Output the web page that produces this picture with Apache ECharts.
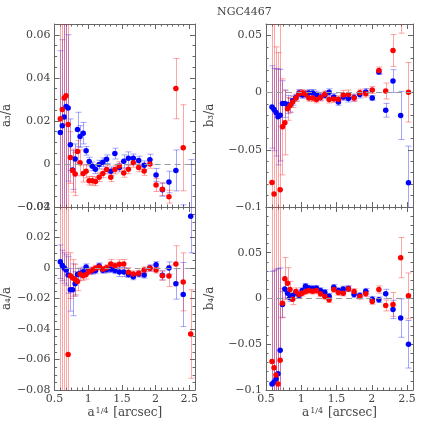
<!DOCTYPE html>
<html>
<head>
<meta charset="utf-8">
<script src="https://cdn.jsdelivr.net/npm/echarts@6/dist/echarts.min.js"></script>
<style>
  html, body { margin: 0; background: #fff; }
  #chart { width: 436px; height: 436px; }
</style>
</head>
<body>
<div id="chart"></div>
<script>
// a^(1/4) in arcsec, one entry per isophote
const radius = [0.585, 0.614, 0.642, 0.670, 0.701, 0.734, 0.767, 0.805, 0.840, 0.878, 0.925, 0.968, 1.013, 1.060, 1.107, 1.161, 1.216, 1.272, 1.334, 1.395, 1.461, 1.527, 1.596, 1.669, 1.749, 1.830, 1.915, 2.007, 2.101, 2.198, 2.301, 2.410, 2.521]

const a3Red = [0.021, 0.0253, 0.0306, 0.0317, 0.0183, 0.003, -0.0031, -0.0047, 0.0058, 0.0005, -0.0044, -0.0034, -0.0078, -0.0078, -0.0081, -0.0062, -0.0044, -0.0026, -0.0062, -0.0026, -0.0009, -0.0042, -0.0025, 0.0005, -0.0016, -0.0033, 0, -0.0098, -0.0117, -0.0152, 0.035, 0.0075, null]
const a3RedErr = [0.15, 0.15, 0.15, 0.15, 0.15, 0.012, 0.01, 0.01, 0.005, 0.006, 0.004, 0.003, 0.002, 0.002, 0.002, 0.002, 0.002, 0.002, 0.002, 0.002, 0.002, 0.002, 0.002, 0.002, 0.002, 0.002, 0.002, 0.003, 0.003, 0.003, 0.014, 0.02, null]
const a3Blue = [0.0146, 0.0177, 0.0218, 0.0267, 0.026, 0.0089, -0.0028, 0.0023, 0.016, 0.0128, 0.0143, 0.0061, 0.0011, -0.0011, -0.0025, -0.0003, 0.0008, 0.0022, -0.0034, 0.0048, -0.0017, 0.0012, 0.0026, 0.0026, 0.0016, -0.0006, 0.002, -0.0051, -0.012, -0.0084, -0.003, -0.035, -0.024]
const a3BlueErr = [0.038, 0.04, 0.045, 0.05, 0.034, 0.012, 0.009, 0.007, 0.008, 0.005, 0.005, 0.002, 0.002, 0.002, 0.002, 0.002, 0.002, 0.002, 0.002, 0.0025, 0.002, 0.003, 0.003, 0.002, 0.002, 0.002, 0.0025, 0.003, 0.003, 0.005, 0.0095, 0.016, 0.026]

const b3Red = [-0.0786, -0.0887, -0.11, -0.115, -0.085, -0.0299, -0.0264, -0.0142, -0.0113, -0.0081, -0.0046, -0.0009, -0.0003, -0.0012, -0.0046, -0.0046, -0.006, -0.0043, -0.0014, -0.006, -0.0055, -0.0058, -0.002, -0.0017, -0.0046, 0, -0.0009, 0.0023, 0.0194, 0.0014, 0.0368, 0.075, 0.0003]
const b3RedErr = [0.15, 0.15, 0.15, 0.15, 0.15, 0.042, 0.028, 0.01, 0.006, 0.005, 0.003, 0.003, 0.003, 0.003, 0.003, 0.003, 0.003, 0.003, 0.003, 0.003, 0.003, 0.003, 0.004, 0.004, 0.003, 0.003, 0.003, 0.003, 0.003, 0.007, 0.014, 0.023, 0.026]
const b3Blue = [-0.0125, -0.0148, -0.0174, -0.0212, -0.0197, -0.0096, -0.0096, -0.0104, -0.011, -0.007, -0.0043, -0.0003, -0.002, -0.0014, -0.0003, -0.0003, -0.0017, -0.0038, -0.0023, 0.0003, -0.0038, -0.0081, -0.0038, -0.0052, -0.0043, -0.0017, 0.0006, -0.0046, 0.018, -0.0154, 0.0101, -0.02, -0.0788]
const b3BlueErr = [0.036, 0.036, 0.038, 0.042, 0.04, 0.02, 0.012, 0.008, 0.006, 0.004, 0.003, 0.003, 0.003, 0.003, 0.003, 0.003, 0.003, 0.003, 0.003, 0.003, 0.003, 0.003, 0.003, 0.003, 0.003, 0.003, 0.003, 0.002, 0.002, 0.006, 0.01, 0.021, 0.032]

const a4Red = [-0.1, -0.1, -0.1, -0.1, -0.0567, -0.005, -0.0065, -0.0075, -0.0089, -0.004, -0.005, -0.0043, -0.0022, -0.0013, -0.0002, 0.0007, -0.0009, 0.0002, 0.0026, 0.0015, 0.0024, 0.0026, -0.0028, -0.0039, -0.0035, -0.0013, -0.0002, -0.0013, -0.005, -0.0052, 0.0026, -0.0091, -0.0433]
const a4RedErr = [0.15, 0.15, 0.15, 0.15, 0.15, 0.015, 0.012, 0.01, 0.006, 0.004, 0.003, 0.003, 0.002, 0.002, 0.002, 0.002, 0.002, 0.002, 0.003, 0.002, 0.003, 0.003, 0.003, 0.002, 0.002, 0.002, 0.002, 0.002, 0.003, 0.007, 0.012, 0.019, 0.029]
const a4Blue = [0.0041, 0.0017, 0, -0.0013, -0.0046, -0.0143, -0.0143, -0.0104, -0.0043, -0.0035, -0.0024, 0.0007, -0.002, -0.002, -0.0017, 0.0013, -0.0015, -0.0011, -0.0009, -0.0017, -0.0026, -0.0026, -0.0043, -0.0057, -0.0039, -0.0046, 0, 0.0022, -0.0048, 0, -0.0104, -0.0174, 0.034]
const a4BlueErr = [0.011, 0.01, 0.01, 0.01, 0.012, 0.014, 0.017, 0.008, 0.004, 0.003, 0.003, 0.002, 0.002, 0.002, 0.002, 0.002, 0.002, 0.002, 0.002, 0.002, 0.003, 0.003, 0.002, 0.002, 0.002, 0.002, 0.002, 0.002, 0.003, 0.004, 0.01, 0.021, 0.024]

const b4Red = [-0.0688, -0.0757, -0.0837, -0.0935, -0.0674, -0.0051, 0.0217, 0.0167, 0.0098, -0.0007, 0.0076, 0.0043, 0.0058, 0.0076, 0.0087, 0.008, 0.0087, 0.0051, 0.0022, -0.0014, 0.0098, 0.0065, 0.0058, 0.0105, 0.0076, 0.0022, 0.0051, -0.0033, 0.0098, -0.0076, -0.0065, 0.0446, 0.0029]
const b4RedErr = [0.2, 0.2, 0.2, 0.2, 0.2, 0.016, 0.023, 0.017, 0.009, 0.006, 0.004, 0.003, 0.003, 0.003, 0.003, 0.003, 0.003, 0.003, 0.003, 0.003, 0.003, 0.003, 0.003, 0.003, 0.003, 0.003, 0.003, 0.003, 0.004, 0.006, 0.013, 0.022, 0.025]
const b4Blue = [-0.0935, -0.0913, -0.088, -0.0822, -0.0565, -0.0065, 0.0105, 0.0058, 0.0007, 0.0033, 0.0062, 0.0036, 0.0087, 0.0134, 0.0116, 0.0109, 0.0112, 0.0087, 0.0069, 0.0025, 0.0123, 0.0087, 0.0105, 0.0109, 0.0043, 0.0033, 0.008, -0.0007, -0.0014, 0.0051, -0.012, -0.0214, -0.05]
const b4BlueErr = [0.123, 0.122, 0.12, 0.115, 0.09, 0.014, 0.01, 0.005, 0.004, 0.003, 0.003, 0.003, 0.003, 0.003, 0.003, 0.003, 0.003, 0.003, 0.003, 0.003, 0.003, 0.003, 0.003, 0.003, 0.003, 0.003, 0.003, 0.003, 0.003, 0.005, 0.01, 0.021, 0.026]

const xTickLabels = [0.5, 1, 1.5, 2, 2.5]

const FONT = 'DejaVu Serif'
const X_MIN = 0.5
const X_MAX = 2.585

const panels = [
  { label: 'a₃/a', red: a3Red, redErr: a3RedErr, blue: a3Blue, blueErr: a3BlueErr, min: -0.02, max: 0.065, step: 0.02, minor: 0.005, left: 48, top: 24, gap: 32, bottom: false, topLabel: false },
  { label: 'b₃/a', red: b3Red, redErr: b3RedErr, blue: b3Blue, blueErr: b3BlueErr, min: -0.1, max: 0.06, step: 0.05, minor: 0.01, left: 266, top: 24, gap: 50, bottom: false, topLabel: false },
  { label: 'a₄/a', red: a4Red, redErr: a4RedErr, blue: a4Blue, blueErr: a4BlueErr, min: -0.08, max: 0.04, step: 0.02, minor: 0.005, left: 48, top: 207, gap: 32, bottom: true, topLabel: true },
  { label: 'b₄/a', red: b4Red, redErr: b4RedErr, blue: b4Blue, blueErr: b4BlueErr, min: -0.1, max: 0.1, step: 0.05, minor: 0.01, left: 266, top: 207, gap: 50, bottom: true, topLabel: false }
]

function round(v) {
  return Math.round(v * 1e6) / 1e6
}

function steps(min, max, step) {
  const out = []
  for (let v = min; v <= max + 1e-9; v += step) out.push(round(v))
  return out
}

function minorSteps(min, max, step, major) {
  return steps(min, max, step).filter(v => v > min && v < max &&
    Math.abs(v / major - Math.round(v / major)) > 1e-6)
}

function fmt(v) {
  if (v === 0) return '0'
  return String(v).replace('-', '\u2212')
}

function pairs(xs, ys, errs) {
  const out = []
  xs.forEach((x, i) => {
    if (ys[i] !== null && ys[i] !== undefined) out.push([x, ys[i], errs[i]])
  })
  return out
}

function errorBar(color) {
  return function (params, api) {
    const x = api.value(0)
    const y = api.value(1)
    const e = api.value(2)
    const hi = api.coord([x, y + e])
    const lo = api.coord([x, y - e])
    const cx = Math.round(hi[0]) + 0.5
    const style = { stroke: color, lineWidth: 1 }
    return {
      type: 'group',
      children: [
        { type: 'line', shape: { x1: cx, y1: hi[1], x2: cx, y2: lo[1] }, style },
        { type: 'line', shape: { x1: cx - 3, y1: hi[1], x2: cx + 3, y2: hi[1] }, style },
        { type: 'line', shape: { x1: cx - 3, y1: lo[1], x2: cx + 3, y2: lo[1] }, style }
      ]
    }
  }
}

const xMinor = minorSteps(X_MIN, X_MAX, 0.5 / 6, 0.5)
const axisColor = '#666'
const textColor = '#444'
const labelStyle = { fontFamily: FONT, fontSize: 11, color: textColor }

const grid = []
const xAxis = []
const yAxis = []
const series = []

panels.forEach((p, k) => {
  grid.push({ left: p.left, top: p.top, width: 147, height: 183, show: false })

  // x axes: bottom major, bottom minor, top major, top minor
  ;['bottom', 'top'].forEach(pos => {
    xAxis.push({
      type: 'value', gridIndex: k, position: pos, min: X_MIN, max: X_MAX,
      axisLine: { show: true, onZero: false, lineStyle: { color: axisColor } },
      axisTick: { show: true, inside: true, length: 5, customValues: xTickLabels, lineStyle: { color: axisColor } },
      axisLabel: {
        show: pos === 'bottom' && p.bottom, customValues: xTickLabels, margin: 4,
        formatter: v => fmt(v), ...labelStyle
      },
      splitLine: { show: false },
      name: pos === 'bottom' && p.bottom ? '{n|a}{s|1/4}{n| [arcsec]}' : '',
      nameLocation: 'middle', nameGap: 17,
      nameTextStyle: {
        rich: {
          n: { fontFamily: FONT, fontSize: 12, color: textColor },
          s: { fontFamily: FONT, fontSize: 8, color: textColor, verticalAlign: 'top', padding: [0, 1, 0, 1] }
        }
      }
    })
    xAxis.push({
      type: 'value', gridIndex: k, position: pos, min: X_MIN, max: X_MAX,
      axisLine: { show: false, onZero: false },
      axisTick: { show: true, inside: true, length: 2.5, customValues: xMinor, lineStyle: { color: axisColor } },
      axisLabel: { show: false },
      splitLine: { show: false }
    })
  })

  const yMajor = steps(p.min, p.max, p.step)
  const yLabels = p.topLabel ? yMajor : yMajor.filter(v => v < p.max - 1e-9)
  const yMinor = minorSteps(p.min, p.max, p.minor, p.step)
  ;['left', 'right'].forEach(pos => {
    yAxis.push({
      type: 'value', gridIndex: k, position: pos, min: p.min, max: p.max,
      axisLine: { show: true, onZero: false, lineStyle: { color: axisColor } },
      axisTick: { show: true, inside: true, length: 5, customValues: yMajor, lineStyle: { color: axisColor } },
      axisLabel: {
        show: pos === 'left', customValues: yLabels, margin: 4,
        formatter: v => fmt(v), ...labelStyle
      },
      splitLine: { show: false },
      name: pos === 'left' ? p.label : '',
      nameLocation: 'middle', nameGap: p.gap, nameRotate: 90,
      nameTextStyle: { fontFamily: FONT, fontSize: 12, color: textColor }
    })
    yAxis.push({
      type: 'value', gridIndex: k, position: pos, min: p.min, max: p.max,
      axisLine: { show: false, onZero: false },
      axisTick: { show: true, inside: true, length: 2.5, customValues: yMinor, lineStyle: { color: axisColor } },
      axisLabel: { show: false },
      splitLine: { show: false }
    })
  })

  const xi = k * 4
  const yi = k * 4
  series.push({
    type: 'custom', xAxisIndex: xi, yAxisIndex: yi, clip: true, silent: true,
    renderItem: errorBar('rgba(40, 40, 255, 0.42)'),
    encode: { x: 0, y: 1 },
    data: pairs(radius, p.blue, p.blueErr),
    markLine: {
      silent: true, symbol: 'none', label: { show: false },
      lineStyle: { color: '#999', type: [6, 4], width: 1 },
      data: [{ yAxis: 0 }]
    },
    z: 1
  })
  series.push({
    type: 'custom', xAxisIndex: xi, yAxisIndex: yi, clip: true, silent: true,
    renderItem: errorBar('rgba(255, 40, 40, 0.42)'),
    encode: { x: 0, y: 1 },
    data: pairs(radius, p.red, p.redErr),
    z: 2
  })
  series.push({
    type: 'scatter', xAxisIndex: xi, yAxisIndex: yi, clip: true,
    symbolSize: 5.5, itemStyle: { color: '#0000ff', opacity: 1 },
    data: pairs(radius, p.blue, p.blueErr).map(d => [d[0], d[1]]),
    z: 3
  })
  series.push({
    type: 'scatter', xAxisIndex: xi, yAxisIndex: yi, clip: true,
    symbolSize: 5.5, itemStyle: { color: '#ff0000', opacity: 1 },
    data: pairs(radius, p.red, p.redErr).map(d => [d[0], d[1]]),
    z: 4
  })
})

const chart = echarts.init(document.getElementById('chart'))
chart.setOption({
  animation: false,
  backgroundColor: '#fff',
  title: {
    text: 'NGC4467', left: 212, top: 2,
    textStyle: { fontFamily: FONT, fontSize: 11, fontWeight: 'normal', color: textColor }
  },
  grid,
  xAxis,
  yAxis,
  series
})
</script>
</body>
</html>
